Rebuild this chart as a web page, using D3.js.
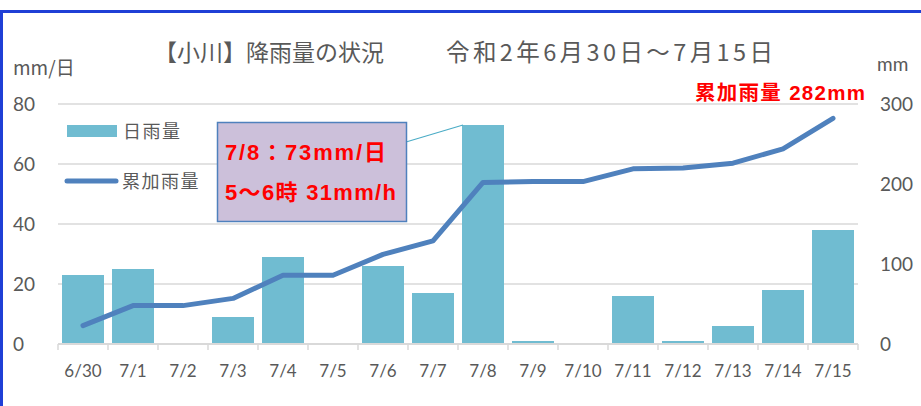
<script src="https://cdn.jsdelivr.net/npm/d3@7"></script>
<style>
    body { margin: 0; background: #fff; }
    svg text { font-family: Lato, 'Noto Sans CJK JP', sans-serif; }
    .tick-label { fill: #595959; }
    .jp { font-family: 'Noto Sans CJK JP', sans-serif; }
    .grid line { stroke: #d9d9d9; stroke-width: 1.5; }
    .red { fill: #ff0000; font-weight: bold; font-family: 'Liberation Sans', 'Noto Sans CJK JP', sans-serif; }
</style>
<svg id="chart" width="921" height="406"></svg>
<script>
    const dates = ["6/30", "7/1", "7/2", "7/3", "7/4", "7/5", "7/6", "7/7",
        "7/8", "7/9", "7/10", "7/11", "7/12", "7/13", "7/14", "7/15"];
    const dailyRain = [23, 25, 0, 9, 29, 0, 26, 17, 73, 1, 0, 16, 1, 6, 18, 38];
    const cumRain = [23, 48, 48, 57, 86, 86, 112, 129, 202, 203, 203, 219, 220, 226, 244, 282];
    const leftTicks = [0, 20, 40, 60, 80];
    const rightTicks = [0, 100, 200, 300];

    const margin = { left: 58, top: 104 };
    const width = 800, height = 240;

    const svg = d3.select("#chart");

    // blue frame
    svg.append("rect")
        .attr("x", 1.5).attr("y", 11.5)
        .attr("width", 940).attr("height", 420)
        .attr("fill", "none").attr("stroke", "#1f3fd6").attr("stroke-width", 3);

    const x = d3.scaleBand().domain(dates).range([0, width]).paddingInner(0.16).paddingOuter(0.08);
    const yL = d3.scaleLinear().domain([0, 80]).range([height, 0]);
    const yR = d3.scaleLinear().domain([0, 300]).range([height, 0]);

    const g = svg.append("g").attr("transform", `translate(${margin.left},${margin.top})`);

    // grid
    g.append("g").attr("class", "grid")
        .selectAll("line").data(leftTicks.slice(1)).enter().append("line")
        .attr("x1", 0).attr("x2", width)
        .attr("y1", d => yL(d)).attr("y2", d => yL(d));

    // bars
    g.append("g").selectAll("rect").data(dailyRain).enter().append("rect")
        .attr("x", (d, i) => x(dates[i]))
        .attr("width", x.bandwidth())
        .attr("y", d => yL(d))
        .attr("height", d => height - yL(d))
        .attr("fill", "#70bcd1");

    // x axis
    const xAxis = g.append("g").attr("transform", `translate(0,${height})`);
    xAxis.append("line").attr("x1", 0).attr("x2", width).attr("y1", 0).attr("y2", 0)
        .attr("stroke", "#d9d9d9").attr("stroke-width", 2);
    xAxis.selectAll("line.tk").data(d3.range(dates.length + 1)).enter().append("line")
        .attr("class", "tk")
        .attr("x1", i => i * x.step()).attr("x2", i => i * x.step())
        .attr("y1", 0).attr("y2", 6)
        .attr("stroke", "#d9d9d9").attr("stroke-width", 1.5);
    xAxis.selectAll("text").data(dates).enter().append("text")
        .attr("class", "tick-label")
        .attr("x", d => x(d) + x.bandwidth() / 2)
        .attr("y", 33)
        .attr("text-anchor", "middle")
        .style("font-size", "17px")
        .text(d => d);

    // left axis labels
    g.append("g").selectAll("text").data(leftTicks).enter().append("text")
        .attr("class", "tick-label")
        .attr("x", -45).attr("y", d => yL(d) + 7)
        .style("font-size", "19px")
        .text(d => d);

    // right axis labels
    g.append("g").selectAll("text").data(rightTicks).enter().append("text")
        .attr("class", "tick-label")
        .attr("x", width + 22).attr("y", d => yR(d) + 7)
        .style("font-size", "19px")
        .text(d => d);

    // cumulative line
    const line = d3.line()
        .x((d, i) => x(dates[i]) + x.bandwidth() / 2)
        .y(d => yR(d));
    g.append("path").datum(cumRain)
        .attr("d", line)
        .attr("fill", "none")
        .attr("stroke", "#4f81bd")
        .attr("stroke-width", 5)
        .attr("stroke-linecap", "round")
        .attr("stroke-linejoin", "round");

    // title & unit labels
    svg.append("text").attr("class", "jp")
        .attr("x", 154).attr("y", 61)
        .attr("fill", "#595959").style("font-size", "23px")
        .text("【小川】降雨量の状況");
    svg.append("text").attr("class", "jp")
        .attr("x", 446).attr("y", 61)
        .attr("fill", "#595959").style("font-size", "23.5px")
        .attr("textLength", 327).attr("lengthAdjust", "spacing")
        .text("令和2年6月30日～7月15日");
    svg.append("text").attr("class", "jp")
        .attr("x", 13).attr("y", 75)
        .attr("fill", "#595959").style("font-size", "19px")
        .text("mm/日");
    svg.append("text")
        .attr("x", 877).attr("y", 71)
        .attr("fill", "#595959").style("font-size", "19px")
        .text("mm");

    // legend
    const lg = svg.append("g").attr("transform", "translate(67,0)");
    lg.append("rect").attr("x", 0).attr("y", 125).attr("width", 50).attr("height", 12).attr("fill", "#70bcd1");
    lg.append("text").attr("class", "jp").attr("x", 56).attr("y", 138)
        .attr("fill", "#595959").style("font-size", "18px").style("letter-spacing", "1.5px").text("日雨量");
    lg.append("line").attr("x1", 0).attr("x2", 49).attr("y1", 181).attr("y2", 181)
        .attr("stroke", "#4f81bd").attr("stroke-width", 5).attr("stroke-linecap", "round");
    lg.append("text").attr("class", "jp").attr("x", 55).attr("y", 188)
        .attr("fill", "#595959").style("font-size", "18px").style("letter-spacing", "1.5px").text("累加雨量");

    // callout
    const peakIdx = 8;
    const peakX = margin.left + x(dates[peakIdx]) + 1;
    const peakY = margin.top + yL(dailyRain[peakIdx]);
    svg.append("line")
        .attr("x1", 406).attr("y1", 142).attr("x2", peakX).attr("y2", peakY)
        .attr("stroke", "#4bacc6").attr("stroke-width", 1.2);
    svg.append("rect")
        .attr("x", 217.5).attr("y", 122.5).attr("width", 189).attr("height", 99)
        .attr("fill", "#ccc0da").attr("stroke", "#4f81bd").attr("stroke-width", 1.5);
    svg.append("text").attr("class", "red")
        .attr("x", 225).attr("y", 160).style("font-size", "22px")
        .attr("textLength", 161).attr("lengthAdjust", "spacing")
        .text("7/8：73mm/日");
    svg.append("text").attr("class", "red")
        .attr("x", 225).attr("y", 200).style("font-size", "22px")
        .attr("textLength", 171).attr("lengthAdjust", "spacing")
        .text("5～6時 31mm/h");

    // total label
    svg.append("text").attr("class", "red")
        .attr("x", 695).attr("y", 100)
        .style("font-size", "20.5px")
        .attr("textLength", 170).attr("lengthAdjust", "spacing")
        .text("累加雨量 282mm");
</script>
